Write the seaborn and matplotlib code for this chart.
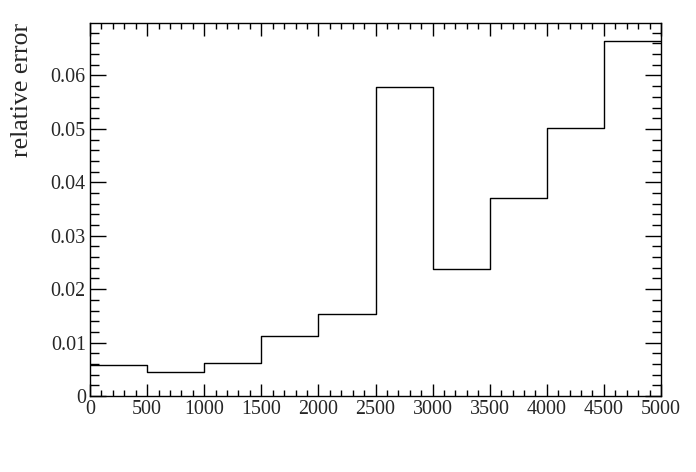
import numpy as np
import pandas as pd
import matplotlib
matplotlib.use("Agg")
import matplotlib.pyplot as plt
import seaborn as sns
from matplotlib.ticker import MultipleLocator, FuncFormatter

# bin edges and per-bin relative error
bin_edges = [0, 500, 1000, 1500, 2000, 2500, 3000, 3500, 4000, 4500, 5000]
rel_error = [0.0058, 0.0044, 0.0062, 0.0112, 0.0154, 0.0579, 0.0238, 0.0371, 0.0501, 0.0665]

centers = [(a + b) / 2 for a, b in zip(bin_edges[:-1], bin_edges[1:])]
df = pd.DataFrame({"x": centers, "w": rel_error})

sns.set_style("ticks")
plt.rcParams["font.family"] = ["Liberation Serif", "DejaVu Serif"]

fig = plt.figure(figsize=(6.96, 4.72), dpi=100)
ax = fig.add_axes([90 / 696, 1 - 396 / 472, (661 - 90) / 696, (396 - 23) / 472])

sns.histplot(data=df, x="x", weights="w", bins=bin_edges, element="step",
             fill=False, color="black", linewidth=1.0, ax=ax)

ax.set_xlim(0, 5000)
ax.set_ylim(0, 1.05 * max(rel_error))
ax.set_xlabel("")
ax.set_ylabel("relative error", fontsize=18.5)
ax.yaxis.set_label_coords(-0.10, 1.0)
ax.yaxis.label.set_horizontalalignment("right")

ax.xaxis.set_major_locator(MultipleLocator(500))
ax.xaxis.set_minor_locator(MultipleLocator(100))
ax.yaxis.set_major_locator(MultipleLocator(0.01))
ax.yaxis.set_minor_locator(MultipleLocator(0.002))
ax.yaxis.set_major_formatter(FuncFormatter(lambda v, p: "0" if abs(v) < 1e-12 else f"{v:g}"))

for s in ax.spines.values():
    s.set_visible(True)
    s.set_linewidth(1.0)
    s.set_color("black")

ax.tick_params(axis="both", which="both", direction="in", top=True, right=True,
               labelsize=14.4, width=1.0, color="black", pad=3)
ax.tick_params(axis="x", which="major", length=9)
ax.tick_params(axis="x", which="minor", length=4.5)
ax.tick_params(axis="y", which="major", length=11.5)
ax.tick_params(axis="y", which="minor", length=6.5)

fig.savefig("out.png", dpi=100)
